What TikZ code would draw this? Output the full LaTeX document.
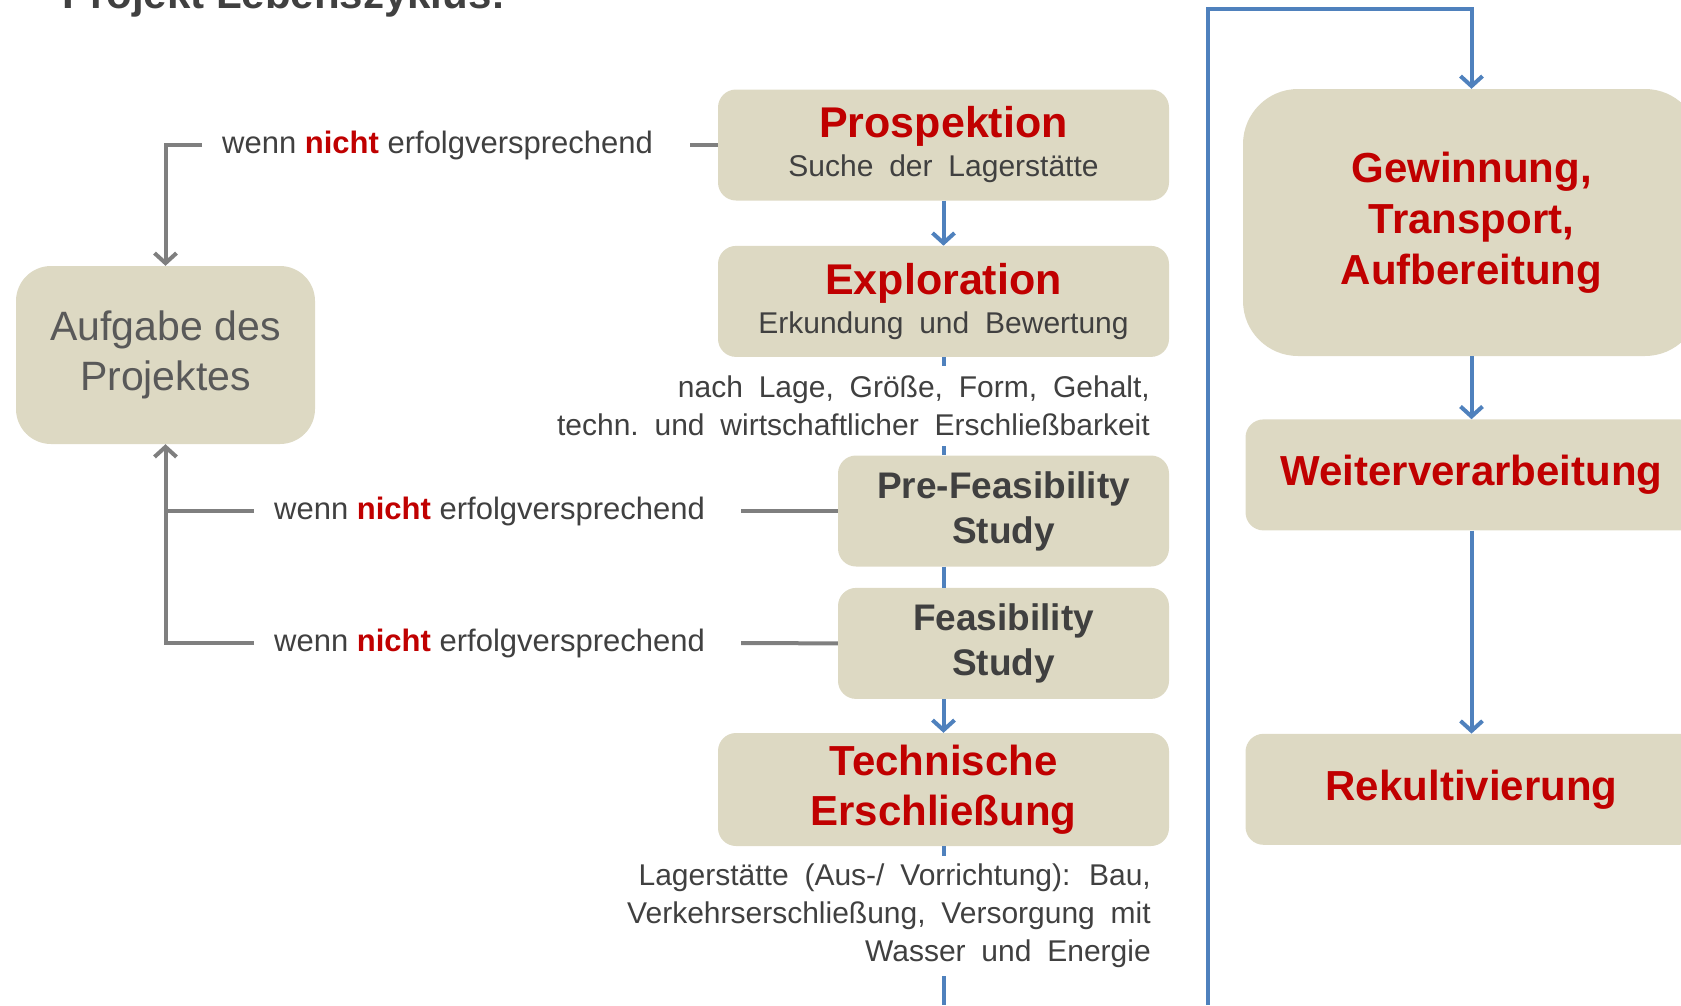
\documentclass[tikz,border=0pt]{standalone}
\usepackage{fontspec}
\setmainfont{Liberation Sans}
\newfontfamily\wide[WordSpace=1.9]{Liberation Sans}
\usetikzlibrary{positioning,arrows.meta}
\definecolor{boxfill}{HTML}{DDD9C3}
\definecolor{titlered}{HTML}{C00000}
\definecolor{textgray}{HTML}{404040}
\definecolor{aufgray}{HTML}{595959}
\definecolor{linegray}{HTML}{7F7F7F}
\definecolor{flowblue}{HTML}{4F81BD}
\tikzset{>={Straight Barb[length=10pt,width=22pt]}}
\def\phase#1{{\fontsize{43}{39}\selectfont\bfseries\color{titlered}#1}}
\def\nicht{{\bfseries\color{titlered}nicht}}
\def\wenn#1#2{
  \node[wenn] (#1) at (#2) {wenn \nicht{} erfolgversprechend};
}

\begin{document}
\begin{tikzpicture}[x=1pt,y=-1pt,
  box/.style={fill=boxfill,rounded corners=18pt,inner sep=0pt,align=center,text=textgray},
  stage/.style={box,minimum width=451pt,minimum height=111pt,font=\wide\fontsize{30}{39}\selectfont},
  study/.style={box,minimum width=331pt,minimum height=111pt,font=\fontsize{37}{45}\selectfont\bfseries},
  late/.style={box,minimum width=452pt,minimum height=111pt,text=titlered,font=\fontsize{42}{51}\selectfont\bfseries},
  note/.style={align=right,text=textgray,inner xsep=0pt,font=\wide\fontsize{30}{38}\selectfont},
  wenn/.style={anchor=west,inner sep=0pt,text=textgray,font=\fontsize{31}{36}\selectfont},
  flow/.style={draw=flowblue,line width=4pt},
  back/.style={draw=linegray,line width=4pt},
]
\useasboundingbox (0,0) rectangle (1681,1005);

\node[anchor=base west,inner sep=0pt,text=textgray,font=\fontsize{42}{50}\selectfont\bfseries] (titel) at (62,8) {Projekt Lebenszyklus:};

% main column
\node[stage] (pros) at (943.5,145) {\phase{Prospektion}\\Suche der Lagerstätte};
\node[stage,below=45pt of pros] (expl) {\phase{Exploration}\\Erkundung und Bewertung};
\node[note,inner ysep=10pt,anchor=east] (nlage) at (1150,406) {nach Lage, Größe, Form, Gehalt,\\techn.\ und wirtschaftlicher Erschließbarkeit};
\node[study] (prefeas) at (1003.5,511) {Pre-Feasibility\\Study};
\node[study,below=21pt of prefeas] (feas) {Feasibility\\Study};
\node[stage,minimum height=113pt,text=titlered,font=\fontsize{42}{50}\selectfont\bfseries] (tech) at (943.5,789.5) {Technische\\Erschließung};
\node[note,inner ysep=8pt,anchor=east] (nver) at (1151,916) {Lagerstätte (Aus-/ Vorrichtung): Bau,\\Verkehrserschließung, Versorgung mit\\Wasser und Energie};
\coordinate (unten) at (943.5,1005);

% left
\node[box,rounded corners=35pt,minimum width=299pt,minimum height=178pt,text=aufgray,font=\fontsize{41}{50}\selectfont] (aufg) at (165.5,355) {Aufgabe des\\Projektes};
\wenn{wenn1}{222,145}
\wenn{wenn2}{274,511}
\wenn{wenn3}{274,643}

% right column
\node[late,rounded corners=55pt,minimum width=457pt,minimum height=267pt] (gew) at (1471.5,222.5) {Gewinnung,\\Transport,\\Aufbereitung};
\node[late,below=63pt of gew] (weiter) {Weiterverarbeitung};
\node[late,below=203pt of weiter] (rekult) {Rekultivierung};
\coordinate (ende) at (1208,1005);
\coordinate (oben) at (1208,9);

\draw[flow,->] (pros) -- (expl);
\draw[flow] (expl.south) -- (expl.south |- nlage.north)
            (expl.south |- nlage.south) -- (expl.south |- prefeas.north)
            (expl.south |- prefeas.south) -- (expl.south |- feas.north);
\draw[flow,->] (expl.south |- feas.south) -- (tech.north);
\draw[flow] (tech.south) -- (tech.south |- nver.north)
            (tech.south |- nver.south) -- (unten);
\draw[flow,->] (ende) -- (oben) -| (gew.north);
\draw[flow,->] (gew) -- (weiter);
\draw[flow,->] (weiter) -- (rekult);

\draw[back,->] ([xshift=-20pt]wenn1.west) -| (aufg.north);
\draw[back] (pros.west) -- ([xshift=37pt]wenn1.east);
\draw[back] ([xshift=-20pt]wenn2.west) -- (aufg.south |- wenn2.west);
\draw[back] (prefeas.west) -- ([xshift=36pt]wenn2.east);
\draw[back,->] ([xshift=-20pt]wenn3.west) -| (aufg.south);
\draw[back] (feas.west) -- ([xshift=36pt]wenn3.east);
\end{tikzpicture}
\end{document}
